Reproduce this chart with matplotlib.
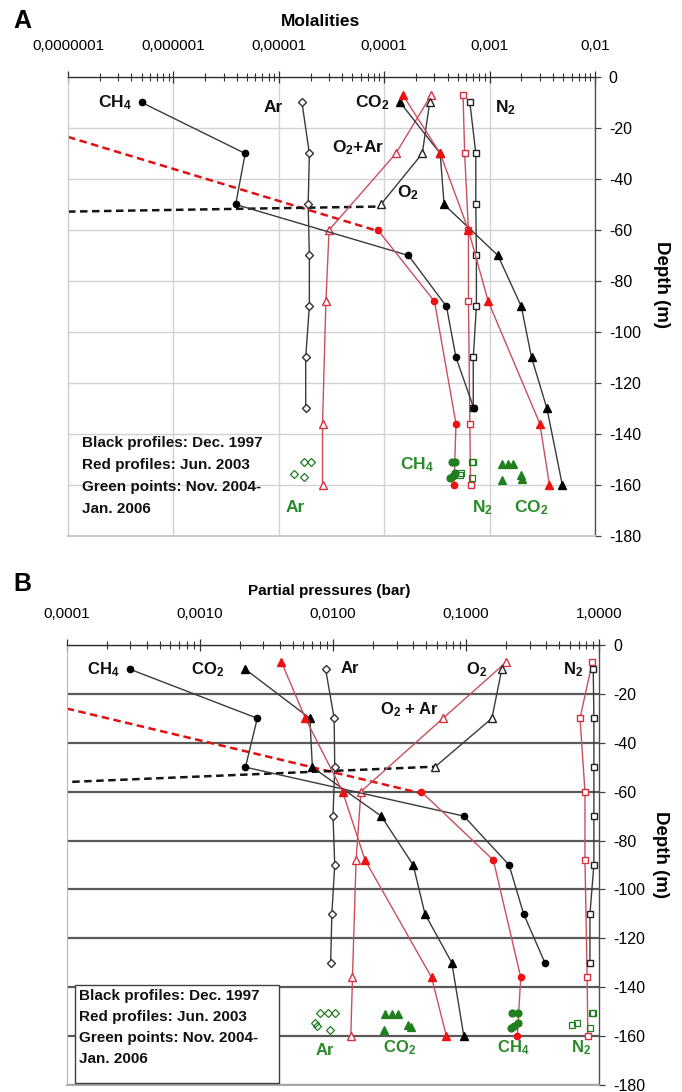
import matplotlib
matplotlib.use("Agg")
import matplotlib.pyplot as plt
from matplotlib.ticker import FixedLocator, LogLocator, NullFormatter
from matplotlib.patches import Rectangle

plt.rcParams['font.family'] = ['Liberation Sans', 'DejaVu Sans']
plt.rcParams['axes.unicode_minus'] = False
plt.rcParams['mathtext.fontset'] = 'custom'
plt.rcParams['mathtext.rm'] = 'Liberation Sans'
plt.rcParams['mathtext.bf'] = 'Liberation Sans:bold'
plt.rcParams['mathtext.default'] = 'bf'

# ---------------- data: panel A (molalities) ----------------
depth_black = [-10, -30, -50, -70, -90, -110, -130, -160]
depth_red = [-7, -30, -60, -88, -136, -160]

a_ch4_black = [5.0e-7, 4.8e-6, 3.9e-6, 1.7e-4, 3.9e-4, 4.8e-4, 7.1e-4]
a_ar_black = [1.66e-5, 1.95e-5, 1.9e-5, 1.95e-5, 1.95e-5, 1.8e-5, 1.8e-5]
a_o2_black = [2.7e-4, 2.3e-4, 9.3e-5]
a_co2_black = [1.42e-4, 3.4e-4, 3.7e-4, 1.2e-3, 2.0e-3, 2.5e-3, 3.5e-3, 4.9e-3]
a_n2_black = [6.5e-4, 7.4e-4, 7.4e-4, 7.5e-4, 7.5e-4, 7.0e-4, 7.0e-4]

a_ch4_red = [8.7e-5, 3.0e-4, 4.8e-4, 4.6e-4]
a_o2ar_red = [2.8e-4, 1.29e-4, 3.0e-5, 2.8e-5, 2.6e-5, 2.6e-5]
a_co2_red = [1.5e-4, 3.4e-4, 6.3e-4, 9.7e-4, 3.0e-3, 3.7e-3]
a_n2_red = [5.6e-4, 5.8e-4, 6.3e-4, 6.3e-4, 6.5e-4, 6.6e-4]

a_red_dash_x = [1e-7, 8.7e-5]
a_red_dash_y = [-23.5, -60.4]
a_black_dash_x = [1e-7, 9.3e-5]
a_black_dash_y = [-52.8, -50.8]

a_green_ar_x = [1.74e-5, 2.0e-5, 1.4e-5, 1.74e-5]
a_green_ar_y = [-151, -151, -155.7, -157]
a_green_ch4_x = [4.4e-4, 4.7e-4, 4.7e-4, 4.5e-4, 4.2e-4]
a_green_ch4_y = [-151, -151, -155.5, -156.5, -157.3]
a_green_n2_x = [6.8e-4, 7.0e-4, 5.4e-4, 5.2e-4, 6.8e-4]
a_green_n2_y = [-151, -151, -155.3, -156, -157.3]
a_green_co2_x = [1.3e-3, 1.5e-3, 1.68e-3, 1.3e-3, 2.0e-3, 2.05e-3]
a_green_co2_y = [-151.8, -151.8, -151.8, -158, -156, -157.6]

a_xticks = [1e-7, 1e-6, 1e-5, 1e-4, 1e-3, 1e-2]
a_xticklabels = ["0,0000001", "0,000001", "0,00001", "0,0001", "0,001", "0,01"]

# ---------------- data: panel B (partial pressures) ----------------
b_ch4_black = [3.0e-4, 2.7e-3, 2.2e-3, 0.096, 0.21, 0.27, 0.39]
b_co2_black = [2.2e-3, 6.7e-3, 7.0e-3, 0.023, 0.040, 0.049, 0.078, 0.096]
b_ar_black = [8.8e-3, 0.0102, 0.0103, 0.0100, 0.0103, 0.0098, 0.0096]
b_o2_black = [0.185, 0.156, 0.058]
b_n2_black = [0.90, 0.91, 0.91, 0.91, 0.91, 0.85, 0.85]

b_ch4_red = [0.046, 0.16, 0.257, 0.242]
b_co2_red = [4.1e-3, 6.2e-3, 0.0118, 0.0174, 0.055, 0.071]
b_o2ar_red = [0.20, 0.067, 0.0162, 0.0149, 0.0140, 0.0136]
b_n2_red = [0.885, 0.716, 0.78, 0.78, 0.81, 0.82]

b_red_dash_x = [1e-4, 0.046]
b_red_dash_y = [-26, -60.7]
b_black_dash_x = [1.1e-4, 0.058]
b_black_dash_y = [-56, -49.8]

b_green_ar_x = [8.0e-3, 9.1e-3, 0.0104, 7.3e-3, 7.6e-3, 9.5e-3]
b_green_ar_y = [-150.7, -150.7, -150.7, -154.7, -155.8, -157.5]
b_green_co2_x = [0.0246, 0.0276, 0.031, 0.0242, 0.0368, 0.0385]
b_green_co2_y = [-151, -151, -151, -157.5, -155.5, -156.3]
b_green_ch4_x = [0.22, 0.245, 0.245, 0.23, 0.216]
b_green_ch4_y = [-150.7, -150.7, -154.7, -155.7, -156.7]
b_green_n2_x = [0.877, 0.90, 0.62, 0.676, 0.85]
b_green_n2_y = [-150.7, -150.7, -155.5, -154.7, -156.7]

b_xticks = [1e-4, 1e-3, 1e-2, 1e-1, 1.0]
b_xticklabels = ["0,0001", "0,0010", "0,0100", "0,1000", "1,0000"]

depth_ticks = [0, -20, -40, -60, -80, -100, -120, -140, -160, -180]
depth_ticklabels = [str(d) for d in depth_ticks]

legend_lines = ["Black profiles: Dec. 1997", "Red profiles: Jun. 2003",
                "Green points: Nov. 2004-", "Jan. 2006"]

# ---------------- styles ----------------
BLK_LINE = '#3a3a3a'
RED_LINE = '#c8505c'
RED_MK = '#ee1111'
RED_OPEN = '#d83040'
GREEN = '#1f7f1f'
GREEN_TXT = '#2a8a2a'

fig = plt.figure(figsize=(6.82, 10.92), dpi=100)
axA = fig.add_axes([0.0997, 0.5092, 0.7727, 0.4203])
axB = fig.add_axes([0.0978, 0.0064, 0.781, 0.403])


def setup(ax, xlim, xticks, xlabels, gridcol, gridlw, vgrid, lcol, bcol):
    ax.set_xscale('log')
    ax.set_xlim(*xlim)
    ax.set_ylim(-180, 0)
    ax.xaxis.set_ticks_position('top')
    ax.xaxis.set_major_locator(FixedLocator(xticks))
    ax.set_xticklabels(xlabels)
    ax.xaxis.set_minor_locator(LogLocator(base=10, subs=[2, 3, 4, 5, 6, 7, 8, 9], numticks=20))
    ax.xaxis.set_minor_formatter(NullFormatter())
    ax.yaxis.tick_right()
    ax.set_yticks(depth_ticks)
    ax.set_yticklabels(depth_ticklabels)
    ax.tick_params(axis='x', which='major', direction='inout', length=8, width=0.9,
                   pad=13, labelsize=11, color='#303030')
    ax.tick_params(axis='x', which='minor', direction='inout', length=6, width=0.8,
                   color='#303030')
    ax.tick_params(axis='y', direction='out', length=4, width=0.9, pad=6,
                   labelsize=11.5, color='#404040')
    ax.yaxis.grid(True, color=gridcol, lw=gridlw)
    if vgrid:
        ax.xaxis.grid(True, which='major', color=gridcol, lw=gridlw)
    ax.set_axisbelow(True)
    ax.spines['top'].set_color('#303030')
    ax.spines['top'].set_linewidth(1.0)
    ax.spines['right'].set_color('#505050')
    ax.spines['right'].set_linewidth(1.0)
    ax.spines['left'].set_color(lcol)
    ax.spines['bottom'].set_color(bcol)
    ax.spines['bottom'].set_linewidth(1.4)


def prof(ax, x, y, marker, mfc, mec, lc, ms, lw=1.0, z=3):
    ax.plot(x, y, color=lc, lw=lw, marker=marker, ms=ms, mfc=mfc, mec=mec,
            mew=1.0, zorder=z)


def pts(ax, x, y, marker, filled, ms):
    ax.plot(x, y, ls='none', marker=marker, ms=ms,
            mfc=GREEN if filled else 'none', mec=GREEN, mew=0.9, zorder=4)


# ================= Panel A =================
setup(axA, (1e-7, 1e-2), a_xticks, a_xticklabels, '#d2d2d2', 1.0, True, '#c8c8c8', '#c8c8c8')

axA.plot(a_red_dash_x, a_red_dash_y, color='#e01010', lw=1.8, dashes=(3, 1.8), zorder=2)
axA.plot(a_black_dash_x, a_black_dash_y, color='#151515', lw=1.8, dashes=(3, 1.8), zorder=2)

prof(axA, a_ar_black, depth_black[:7], 'D', 'white', '#333333', BLK_LINE, 4)
prof(axA, a_o2ar_red, depth_red, '^', 'white', RED_OPEN, RED_LINE, 6)
prof(axA, a_o2_black, depth_black[:3], '^', 'white', '#222222', BLK_LINE, 6)
prof(axA, a_n2_red, depth_red, 's', 'white', RED_OPEN, RED_LINE, 5)
prof(axA, a_n2_black, depth_black[:7], 's', 'white', '#222222', BLK_LINE, 5)
prof(axA, a_ch4_black, depth_black[:7], 'o', 'black', 'black', BLK_LINE, 4.5)
prof(axA, a_ch4_red, depth_red[2:], 'o', RED_MK, RED_MK, RED_LINE, 4.5)
prof(axA, a_co2_black, depth_black, '^', 'black', 'black', BLK_LINE, 6)
prof(axA, a_co2_red, depth_red, '^', RED_MK, RED_MK, RED_LINE, 6)

pts(axA, a_green_ar_x, a_green_ar_y, 'D', False, 4)
pts(axA, a_green_ch4_x, a_green_ch4_y, 'o', True, 5)
pts(axA, a_green_n2_x, a_green_n2_y, 's', False, 5)
pts(axA, a_green_co2_x, a_green_co2_y, '^', True, 6)

lab = dict(ha='center', va='center', fontsize=12.5, fontweight='bold', color='#111111')
axA.text(2.8e-7, -10.2, 'CH$_4$', **lab)
axA.text(8.8e-6, -12, 'Ar', **lab)
axA.text(7.7e-5, -10.2, 'CO$_2$', **lab)
axA.text(1.4e-3, -12, 'N$_2$', **lab)
axA.text(5.6e-5, -27.8, 'O$_2$+Ar', **lab)
axA.text(1.68e-4, -45.5, 'O$_2$', **lab)
glab = dict(ha='center', va='center', fontsize=12.5, fontweight='bold', color=GREEN_TXT)
axA.text(2.05e-4, -152, 'CH$_4$', **glab)
axA.text(1.43e-5, -169, 'Ar', **glab)
axA.text(8.5e-4, -169, 'N$_2$', **glab)
axA.text(2.5e-3, -169, 'CO$_2$', **glab)

for i, (t, yy) in enumerate(zip(legend_lines, [0.2026, 0.1547, 0.1068, 0.0588])):
    axA.text(0.027, yy, t, transform=axA.transAxes, ha='left', va='center',
             fontsize=11, fontweight='bold', color='#111111', zorder=6)

axA.text(1.127, 0.547, 'Depth (m)', transform=axA.transAxes, rotation=270,
         ha='center', va='center', fontsize=13.5, fontweight='bold')

# ================= Panel B =================
setup(axB, (1e-4, 1.0), b_xticks, b_xticklabels, '#5a5a5a', 1.6, False, '#b8b8b8', '#a8a8a8')

axB.plot(b_red_dash_x, b_red_dash_y, color='#e01010', lw=1.8, dashes=(3, 1.8), zorder=2)
axB.plot(b_black_dash_x, b_black_dash_y, color='#151515', lw=1.8, dashes=(3, 1.8), zorder=2)

prof(axB, b_ar_black, depth_black[:7], 'D', 'white', '#333333', BLK_LINE, 4)
prof(axB, b_o2ar_red, depth_red, '^', 'white', RED_OPEN, RED_LINE, 6)
prof(axB, b_o2_black, depth_black[:3], '^', 'white', '#222222', BLK_LINE, 6)
prof(axB, b_n2_red, depth_red, 's', 'white', RED_OPEN, RED_LINE, 5)
prof(axB, b_n2_black, depth_black[:7], 's', 'white', '#222222', BLK_LINE, 5)
prof(axB, b_ch4_black, depth_black[:7], 'o', 'black', 'black', BLK_LINE, 4.5)
prof(axB, b_ch4_red, depth_red[2:], 'o', RED_MK, RED_MK, RED_LINE, 4.5)
prof(axB, b_co2_black, depth_black, '^', 'black', 'black', BLK_LINE, 6)
prof(axB, b_co2_red, depth_red, '^', RED_MK, RED_MK, RED_LINE, 6)

pts(axB, b_green_ar_x, b_green_ar_y, 'D', False, 4)
pts(axB, b_green_co2_x, b_green_co2_y, '^', True, 6)
pts(axB, b_green_ch4_x, b_green_ch4_y, 'o', True, 5)
pts(axB, b_green_n2_x, b_green_n2_y, 's', False, 5)

labB = dict(ha='center', va='center', fontsize=12, fontweight='bold', color='#111111')
axB.text(1.87e-4, -10.2, 'CH$_4$', **labB)
axB.text(1.15e-3, -10.2, 'CO$_2$', **labB)
axB.text(0.0134, -9.5, 'Ar', **labB)
axB.text(0.12, -10.2, 'O$_2$', **labB)
axB.text(0.638, -10, 'N$_2$', **labB)
axB.text(0.0378, -26.3, 'O$_2$ + Ar', **labB)
glabB = dict(ha='center', va='center', fontsize=12, fontweight='bold', color=GREEN_TXT)
axB.text(8.7e-3, -165.7, 'Ar', **glabB)
axB.text(0.0318, -164.9, 'CO$_2$', **glabB)
axB.text(0.225, -164.9, 'CH$_4$', **glabB)
axB.text(0.724, -164.9, 'N$_2$', **glabB)

axB.add_patch(Rectangle((0.0156, 0.0045), 0.383, 0.2225, transform=axB.transAxes,
                        facecolor='white', edgecolor='#404040', lw=1.0, zorder=5))
for t, yy in zip(legend_lines, [0.202, 0.1545, 0.107, 0.059]):
    axB.text(0.023, yy, t, transform=axB.transAxes, ha='left', va='center',
             fontsize=11, fontweight='bold', color='#111111', zorder=6)

axB.text(1.114, 0.523, 'Depth (m)', transform=axB.transAxes, rotation=270,
         ha='center', va='center', fontsize=13.5, fontweight='bold')

# titles and panel letters
fig.text(321 / 682, 1 - 21 / 1092, 'Molalities', ha='center', va='center',
         fontsize=12.5, fontweight='bold')
fig.text(329 / 682, 1 - 591 / 1092, 'Partial pressures (bar)', ha='center', va='center',
         fontsize=11, fontweight='bold')
fig.text(22 / 682, 1 - 21 / 1092, 'A', ha='center', va='center', fontsize=18, fontweight='bold')
fig.text(22 / 682, 1 - 584 / 1092, 'B', ha='center', va='center', fontsize=18, fontweight='bold')

fig.savefig('out.png', dpi=100)
